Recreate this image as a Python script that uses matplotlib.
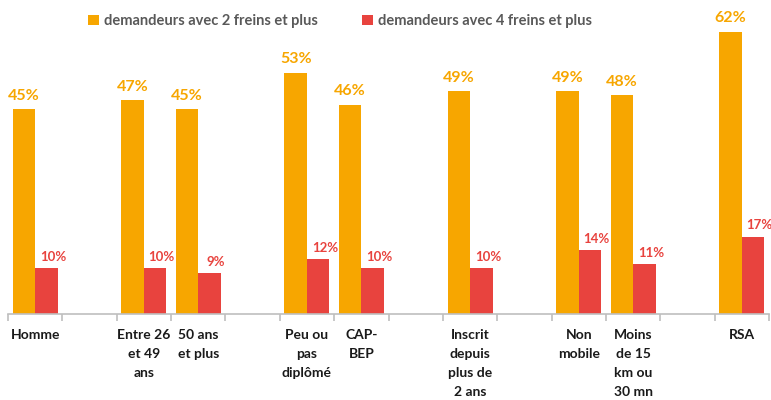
import matplotlib
matplotlib.use("Agg")
import matplotlib.pyplot as plt
import numpy as np

categories = ["Homme", "", "Entre 26\net 49\nans", "50 ans\net plus", "",
              "Peu ou\npas\ndiplômé", "CAP-\nBEP", "", "Inscrit\ndepuis\nplus de\n2 ans", "",
              "Non\nmobile", "Moins\nde 15\nkm ou\n30 mn", "", "RSA"]
deux_freins = [45, None, 47, 45, None, 53, 46, None, 49, None, 49, 48, None, 62]
quatre_freins = [10, None, 10, 9, None, 12, 10, None, 10, None, 14, 11, None, 17]
series_names = ["demandeurs avec 2 freins et plus", "demandeurs avec 4 freins et plus"]

ORANGE = "#F7A600"
RED = "#E8433E"
FONT = ["Lato", "DejaVu Sans"]
plt.rcParams["font.family"] = FONT

fig = plt.figure(figsize=(7.71, 4.0), dpi=100)
ax = fig.add_axes([8/771, 86/400, 761/771, 296/400])

n = len(categories)
x = np.arange(n)
w = 0.414
idx = [i for i in range(n) if deux_freins[i] is not None]
xo = np.array(idx) - w/2
xr = np.array(idx) + w/2
vo = [deux_freins[i] for i in idx]
vr = [quatre_freins[i] for i in idx]

b1 = ax.bar(xo, vo, width=w, color=ORANGE, label=series_names[0])
b2 = ax.bar(xr, vr, width=w, color=RED, label=series_names[1])

for xi, v in zip(xo, vo):
    ax.annotate(f"{v}%", (xi, v), xytext=(0, 4.5), textcoords="offset points",
                ha="center", va="bottom", color=ORANGE, fontsize=11.5, fontweight="bold")
for xi, v in zip(xr, vr):
    ax.annotate(f"{v}%", (xi, v), xytext=(4.8, 3.8), textcoords="offset points",
                ha="center", va="bottom", color=RED, fontsize=9.5, fontweight="bold")

ax.set_xlim(-0.5, n - 0.5)
ax.set_ylim(0, 65)
for s in ["top", "right", "left"]:
    ax.spines[s].set_visible(False)
ax.spines["bottom"].set_color("#BFBFBF")
ax.spines["bottom"].set_linewidth(1.2)
ax.set_yticks([])
ax.set_xticks(x)
ax.set_xticklabels(categories, fontsize=10, fontweight="bold", color="#1a1a1a",
                   linespacing=1.7, va="top")
ax.tick_params(axis="x", which="major", length=0, pad=11)
ax.set_xticks(np.arange(-0.5, n, 1.0), minor=True)
ax.tick_params(axis="x", which="minor", length=5, color="#BFBFBF", width=1.2)

leg = fig.legend(handles=[b1, b2], labels=series_names, loc="center",
                 bbox_to_anchor=(340/771, 1 - 21/400), ncol=2, frameon=False,
                 handlelength=0.75, handleheight=0.75, handletextpad=0.35,
                 columnspacing=3.0, fontsize=10.5)
for t in leg.get_texts():
    t.set_color("#595959")
    t.set_fontweight("bold")

fig.savefig("out.png", dpi=100)
